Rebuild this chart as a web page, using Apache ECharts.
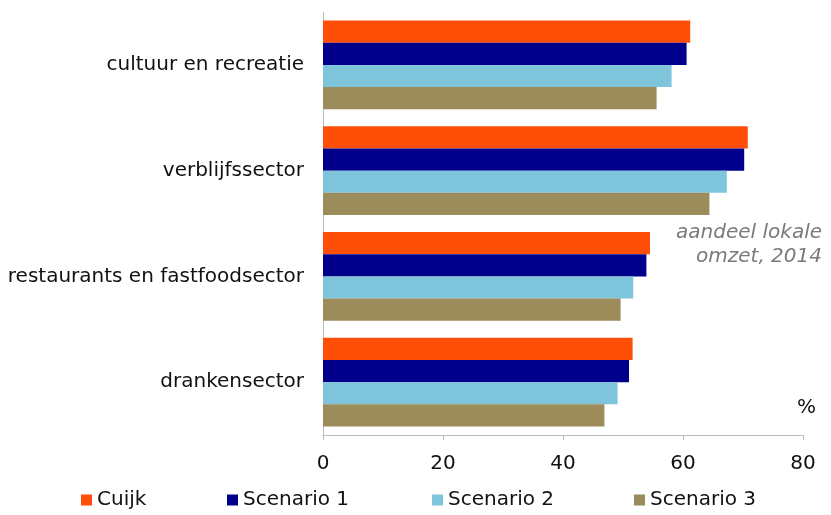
<!DOCTYPE html>
<html>
<head>
<meta charset="utf-8">
<script src="https://cdn.jsdelivr.net/npm/echarts@6/dist/echarts.min.js"></script>
<style>html,body{margin:0;padding:0;background:#fff}#c{width:831px;height:515px}</style>
</head>
<body>
<div id="c"></div>
<script>
const categories = ['cultuur en recreatie', 'verblijfssector', 'restaurants en fastfoodsector', 'drankensector'];
const seriesNames = ['Cuijk', 'Scenario 1', 'Scenario 2', 'Scenario 3'];
const cuijk = [61.2, 70.8, 54.5, 51.6];
const scenario1 = [60.6, 70.2, 53.9, 51.0];
const scenario2 = [58.1, 67.3, 51.7, 49.1];
const scenario3 = [55.6, 64.4, 49.6, 46.9];
const xTicks = [0, 20, 40, 60, 80];
const colors = ['#FF4E08', '#00008A', '#7EC4DA', '#9C8B5B'];
const values = [cuijk, scenario1, scenario2, scenario3];
const legendLeft = [81, 227, 432, 634];
const font = 'DejaVu Sans, Verdana, sans-serif';

const chart = echarts.init(document.getElementById('c'));
chart.setOption({
  animation: false,
  backgroundColor: '#fff',
  textStyle: { fontFamily: font },
  grid: { left: 323, right: 28, top: 12, bottom: 80, containLabel: false },
  xAxis: {
    type: 'value', min: xTicks[0], max: xTicks[xTicks.length - 1], interval: 20,
    axisLine: { show: true, lineStyle: { color: '#BDBDBD', width: 1 } },
    axisTick: { show: true, length: 5, lineStyle: { color: '#BDBDBD' } },
    splitLine: { show: false },
    axisLabel: { color: '#111', fontSize: 20, fontFamily: font, margin: 19 }
  },
  yAxis: {
    type: 'category', data: categories, inverse: true,
    axisLine: { show: true, lineStyle: { color: '#BDBDBD', width: 1 } },
    axisTick: { show: false },
    axisLabel: { color: '#111', fontSize: 20, fontFamily: font, margin: 19 }
  },
  legend: seriesNames.map((n, i) => ({
    data: [n], left: legendLeft[i], top: 490, padding: 0, itemWidth: 11, itemHeight: 11, itemGap: 0,
    icon: 'rect', textStyle: { color: '#111', fontSize: 20, fontFamily: font, padding: [0, 0, 0, 0] }
  })),
  series: seriesNames.map((n, i) => ({
    name: n, type: 'bar', data: values[i], barGap: '0%', barCategoryGap: '16%',
    itemStyle: { color: colors[i] }
  })),
  graphic: [
    { type: 'text', right: 9, top: 221, style: { text: 'aandeel lokale\nomzet, 2014', fill: '#7A7A7A', font: 'italic 20px ' + font, textAlign: 'right', lineHeight: 24 } },
    { type: 'text', left: 797, top: 398, style: { text: '%', fill: '#111', font: '20px ' + font } }
  ]
});
</script>
</body>
</html>
